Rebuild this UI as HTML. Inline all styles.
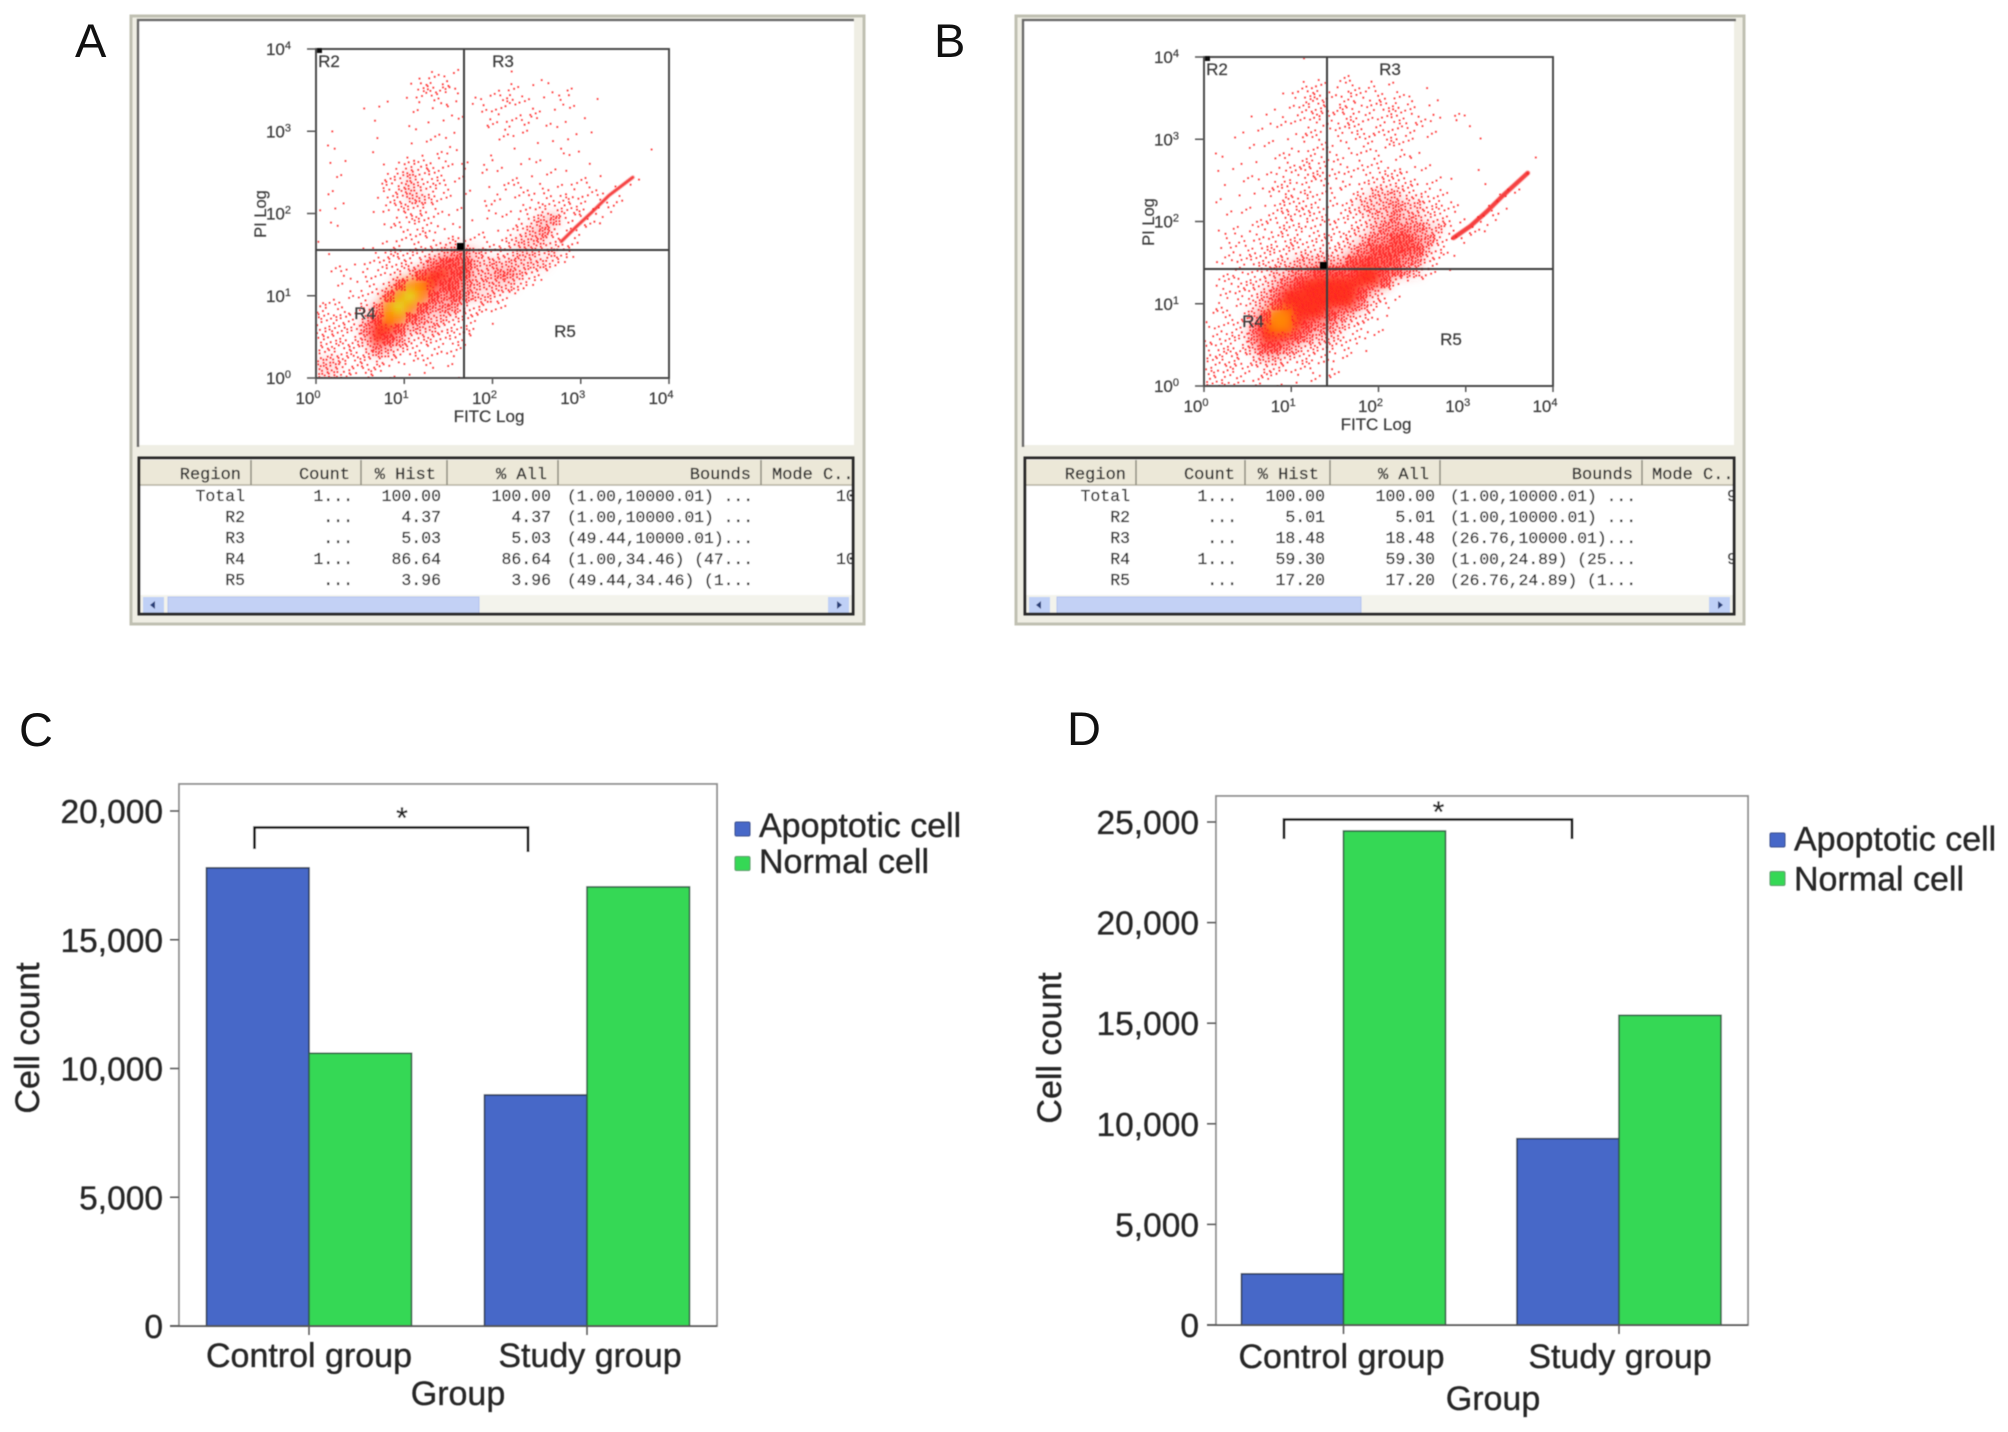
<!DOCTYPE html>
<html lang="en">
<head>
<meta charset="utf-8">
<title>Flow cytometry apoptosis panels</title>
<style>
html,body{margin:0;padding:0;background:#fff;width:2008px;height:1432px;overflow:hidden}
svg{display:block}
text{font-family:"Liberation Sans",sans-serif}
#chart-layer text{fill:#262626;stroke:#262626;stroke-width:.35px}
#flow-layer text{fill:#3a3a3a;stroke:#3a3a3a;stroke-width:.2px}
#table-layer text{fill:#2e2e2e;stroke:#2e2e2e;stroke-width:.3px}
</style>
</head>
<body>
<svg id="fig" xmlns="http://www.w3.org/2000/svg" width="2008" height="1432" viewBox="0 0 2008 1432">
<defs>
<filter id="soft" x="-2%" y="-2%" width="104%" height="104%"><feGaussianBlur stdDeviation="0.5"/></filter>
<filter id="soft2" x="-2%" y="-2%" width="104%" height="104%"><feGaussianBlur stdDeviation="0.45"/></filter>
<filter id="ridge" x="-10%" y="-10%" width="120%" height="120%"><feGaussianBlur stdDeviation="0.9"/></filter>
<filter id="heat" x="-10%" y="-10%" width="120%" height="120%"><feGaussianBlur stdDeviation="5"/></filter>
<clipPath id="clip-a"><rect x="139" y="458" width="714" height="156"/></clipPath>
<clipPath id="clip-b"><rect x="1025" y="458" width="709" height="156"/></clipPath>
<clipPath id="plot-a"><rect x="316" y="49" width="353" height="329"/></clipPath>
<clipPath id="plot-b"><rect x="1204" y="57" width="349" height="329"/></clipPath>
</defs>
<rect x="0" y="0" width="2008" height="1432" fill="#fff"/>

<text x="75" y="57" font-size="47" fill="#111">A</text>
<text x="934" y="57" font-size="47" fill="#111">B</text>
<text x="19" y="746" font-size="47" fill="#111">C</text>
<text x="1067" y="745" font-size="47" fill="#111">D</text>

<g id="panel-a" filter="url(#soft2)">
<rect x="131" y="16" width="733" height="608" fill="#efeee4" stroke="#c0c0b2" stroke-width="3"/>
<rect x="138" y="21" width="716" height="424" fill="#fff"/>
<path d="M138 447V20H854" fill="none" stroke="#666" stroke-width="2.5"/>
</g>
<g id="panel-b" filter="url(#soft2)">
<rect x="1016" y="16" width="728" height="608" fill="#efeee4" stroke="#c0c0b2" stroke-width="3"/>
<rect x="1023" y="21" width="711" height="424" fill="#fff"/>
<path d="M1023 447V20H1736" fill="none" stroke="#666" stroke-width="2.5"/>
</g>
<g id="flow-layer"></g>
<g id="table-layer" filter="url(#soft2)"></g>
<g id="chart-layer" filter="url(#soft2)"></g>
</svg>

<script>
/* ---------- bar chart data ---------- */
const categories = ['Control group', 'Study group'];
const seriesNames = ['Apoptotic cell', 'Normal cell'];
const chartCApoptotic = [17790, 8970];
const chartCNormal = [10590, 17050];
const chartDApoptotic = [2540, 9260];
const chartDNormal = [24550, 15390];
const chartCTicks = [0, 5000, 10000, 15000, 20000];
const chartDTicks = [0, 5000, 10000, 15000, 20000, 25000];

/* ---------- flow cytometry data: event density per log-bin (0-9), top row first ---------- */
const flowDecades = [0, 1, 2, 3, 4];
const flowADensity = [
"0000 0000 0000 0000 0000 0000 0000 0000",
"0000 0000 0000 1000 0100 0000 0000 0000",
"0000 0000 0122 1000 0000 1000 0000 0000",
"0000 0000 1333 2000 1211 1111 0000 0000",
"0000 0010 1222 1021 2321 1120 0100 0000",
"0000 1100 1111 1012 2112 1111 0000 0000",
"0000 0100 1011 1102 1222 1110 1000 0000",
"0100 0000 1011 1001 1211 0101 1000 0000",
"0100 0100 1111 1000 1100 1110 0000 0000",
"0100 0100 1112 1001 0001 0021 0000 0010",
"0110 0012 3322 1202 1011 1100 1000 0000",
"0110 0023 4232 1101 1111 1111 1100 0100",
"0100 0133 4332 1101 1221 2112 2101 1000",
"0110 0123 4432 1101 2112 2232 2212 0000",
"1100 0123 3321 1102 1122 3233 1220 0000",
"0100 0012 3321 1011 1123 4522 2200 0000",
"0100 0012 2321 1011 1234 5312 1000 0000",
"1000 0112 2222 3212 2344 4322 0000 0000",
"0100 1233 3334 5543 3344 3431 0000 0000",
"0111 2233 3356 6644 4444 4310 0000 0000",
"0121 2223 4677 6644 5543 2000 0000 0000",
"0111 2236 8876 6544 4431 0000 0000 0000",
"0112 2268 9865 6544 3200 0000 0000 0000",
"3221 3589 8655 5332 2100 0000 0000 0000",
"3332 4688 6544 3321 0000 0000 0000 0000",
"3333 5776 4443 3310 0000 0000 0000 0000",
"3333 4765 3332 3200 0000 0000 0000 0000",
"3333 3543 3222 2100 0000 0000 0000 0000",
"4433 3322 1221 1000 0000 0000 0000 0000",
"4432 3211 1100 1000 0000 0000 0000 0000"
];
const flowBDensity = [
"0000 0000 0100 0000 0000 0000 0000 0000",
"0000 0000 0000 1100 0000 0000 0000 0000",
"0000 0000 1221 2212 1100 1000 0000 0000",
"0000 0001 2332 2322 2220 0100 0000 0000",
"0000 0011 2332 3222 3321 1000 0000 0000",
"0000 1112 2232 2322 2322 2112 0000 0000",
"0001 1111 1222 2322 2222 1100 1000 0000",
"0010 1111 1221 2122 2321 1000 0100 0000",
"0100 1112 1222 1222 1121 0000 0000 0000",
"0101 1012 2322 2122 1111 1000 0000 0010",
"0111 1122 2332 2222 3321 1100 0100 0100",
"0101 1123 2222 2123 3332 2110 0100 1000",
"0101 1123 2322 1234 4433 2210 0002 1000",
"0111 1123 3322 2344 4544 3321 0021 0000",
"0011 1223 2332 2334 4544 3321 0220 0000",
"0111 2223 3222 2334 5555 4421 2200 0000",
"0122 2223 3233 3345 5665 5322 1000 0000",
"0122 2333 3333 3456 6666 4310 0000 0000",
"0222 3333 4444 4666 6655 3210 0000 0000",
"0122 2344 5566 6677 6654 2110 0000 0000",
"0223 3345 6777 7777 6311 0000 0000 0000",
"0222 3457 7777 7764 2100 0000 0000 0000",
"0212 3467 7777 7753 2100 0000 0000 0000",
"1222 4688 7776 5432 1000 0000 0000 0000",
"2222 5788 7655 4321 1000 0000 0000 0000",
"2233 5777 6544 3221 0000 0000 0000 0000",
"2333 4665 4333 2210 0000 0000 0000 0000",
"3332 3443 3322 1100 0000 0000 0000 0000",
"3232 2332 2212 1000 0000 0000 0000 0000",
"3322 2211 1111 0000 0000 0000 0000 0000"
];
/* diagonal ridge of events: [FITC decade, PI decade] */
const flowARidge = [[2.78, 1.66], [2.95, 1.84], [3.13, 2.02], [3.32, 2.22], [3.59, 2.44]];
const flowBRidge = [[2.86, 1.80], [3.05, 1.94], [3.24, 2.12], [3.43, 2.32], [3.71, 2.59]];

/* ---------- region statistics tables ---------- */
const tableHeaders = ['Region', 'Count', '% Hist', '% All', 'Bounds', 'Mode C..'];
const tableRegions = ['Total', 'R2', 'R3', 'R4', 'R5'];
const tableCounts = ['1...', '...', '...', '1...', '...'];
const tableAHist = ['100.00', '4.37', '5.03', '86.64', '3.96'];
const tableABounds = ['(1.00,10000.01) ...', '(1.00,10000.01) ...', '(49.44,10000.01)...', '(1.00,34.46) (47...', '(49.44,34.46) (1...'];
const tableAMode = ['10', '', '', '10', ''];
const tableBHist = ['100.00', '5.01', '18.48', '59.30', '17.20'];
const tableBBounds = ['(1.00,10000.01) ...', '(1.00,10000.01) ...', '(26.76,10000.01)...', '(1.00,24.89) (25...', '(26.76,24.89) (1...'];
const tableBMode = ['9', '', '', '9', ''];

const NS = 'http://www.w3.org/2000/svg';

function svgEl(tag, attrs, parent) {
  const e = document.createElementNS(NS, tag);
  for (const k in attrs) e.setAttribute(k, attrs[k]);
  parent.appendChild(e);
  return e;
}
function addText(parent, name, str, x, y, size, anchor, fill, family) {
  const t = svgEl('text', {x: x, y: y, 'font-size': size, 'text-anchor': anchor, fill: fill}, parent);
  
  
  if (family) t.style.fontFamily = family;
  t.textContent = str;
  return t;
}
function addShape(parent, name, tag, attrs, interactable) {
  const s = svgEl(tag, attrs, parent);
  
  
  return s;
}

/* ---------- flow plot ---------- */
const heatColors = {4: '#ff5050', 5: '#ff3c3c', 6: '#ff2c20', 7: '#ff2208', 8: '#ff8400', 9: '#d6e81c'};
const heatOpacity = {4: 0.18, 5: 0.36, 6: 0.62, 7: 0.95, 8: 1, 9: 1};
const dotCounts = [0, 1, 3, 6, 10, 16, 24, 10, 0, 0];

function drawFlow(cfg) {
  const root = svgEl('g', {}, document.getElementById('flow-layer'));
  
  
  const xAt = d => cfg.left + d * (cfg.right - cfg.left) / 4;
  const yAt = d => cfg.bottom - d * (cfg.bottom - cfg.top) / 4;
  const rows = cfg.density.map(r => r.replace(/ /g, ''));
  const colDec = 4 / 32, rowDec = 4 / 30;

  const clipHolder = svgEl('g', {'clip-path': 'url(#plot-' + cfg.id + ')'}, root);
  const heat = svgEl('g', {filter: 'url(#heat)'}, clipHolder);
  const dots = svgEl('g', {filter: 'url(#soft)'}, clipHolder);

  rows.forEach((row, r) => {
    for (let c = 0; c < row.length; c++) {
      const level = +row[c];
      if (!level) continue;
      const x0 = xAt(c * colDec), x1 = xAt((c + 1) * colDec);
      const y0 = yAt(4 - r * rowDec), y1 = yAt(4 - (r + 1) * rowDec);
      if (level >= 4) {
        addShape(heat, 'density-heat-cell', 'rect', {x: x0, y: y0, width: x1 - x0, height: y1 - y0, fill: heatColors[level], 'fill-opacity': heatOpacity[level]});
      }
      const n = dotCounts[level];
      if (n) {
        let d = '';
        for (let k = 1; k <= n; k++) {
          const u = (k * 0.7549 + c * 0.37 + r * 0.61) % 1;
          const v = (k * 0.5698 + c * 0.83 + r * 0.29) % 1;
          d += 'M' + (x0 + u * (x1 - x0)).toFixed(1) + ' ' + (y0 + v * (y1 - y0)).toFixed(1) + 'h1.8v1.8h-1.8z';
        }
        addShape(dots, 'density-dot-cell', 'path', {d: d, fill: '#ff2222', 'fill-opacity': 0.9});
      }
    }
  });

  const ridgePath = cfg.ridge.map((p, i) => (i ? 'L' : 'M') + xAt(p[0]).toFixed(1) + ' ' + yAt(p[1]).toFixed(1)).join('');
  addShape(clipHolder, 'event-ridge', 'path', {d: ridgePath, fill: 'none', stroke: '#f51c1c', 'stroke-width': cfg.ridgeW, 'stroke-opacity': 0.85, 'stroke-linecap': 'round', filter: 'url(#ridge)'});

  const ink = svgEl('g', {filter: 'url(#soft2)'}, root);
  addShape(ink, 'plot-border', 'rect', {x: cfg.left, y: cfg.top, width: cfg.right - cfg.left, height: cfg.bottom - cfg.top, fill: 'none', stroke: '#444', 'stroke-width': 1.9});
  addShape(ink, 'vertical-gate', 'line', {x1: cfg.gateX, x2: cfg.gateX, y1: cfg.top, y2: cfg.bottom, stroke: '#3c3c3c', 'stroke-width': 2}, true);
  addShape(ink, 'horizontal-gate', 'line', {x1: cfg.left, x2: cfg.right, y1: cfg.gateY, y2: cfg.gateY, stroke: '#3c3c3c', 'stroke-width': 2}, true);
  addShape(ink, 'gate-handle', 'rect', {x: cfg.gateX - 7, y: cfg.gateY - 7, width: 7, height: 7, fill: '#000'}, true);
  addShape(ink, 'corner-handle', 'rect', {x: cfg.left + 1, y: cfg.top - 1, width: 5, height: 5, fill: '#111'}, true);

  flowDecades.forEach(d => {
    const x = xAt(d), y = yAt(d);
    addShape(ink, 'y-tick', 'line', {x1: cfg.left - 9, x2: cfg.left, y1: y, y2: y, stroke: '#555', 'stroke-width': 1.5});
    addShape(ink, 'x-tick', 'line', {x1: x, x2: x, y1: cfg.bottom, y2: cfg.bottom + 6, stroke: '#555', 'stroke-width': 1.5});
    const ly = addText(ink, 'y-tick-label', '10', cfg.left - 25, y + 6, 17, 'end', '#444');
    const sy = svgEl('tspan', {dy: -6, 'font-size': 11}, ly);
    sy.textContent = String(d);
    const lx = addText(ink, 'x-tick-label', '10', x - 8, cfg.bottom + 26, 17, 'middle', '#444');
    const sx = svgEl('tspan', {dy: -6, 'font-size': 11}, lx);
    sx.textContent = String(d);
  });
  addText(ink, 'x-axis-title', 'FITC Log', cfg.xTitleX, cfg.xTitleY, 17, 'middle', '#444');
  const py = addText(ink, 'y-axis-title', 'PI Log', 0, 0, 16.5, 'middle', '#444');
  py.setAttribute('transform', 'translate(' + cfg.yTitleX + ' ' + cfg.yTitleY + ') rotate(-90)');
  cfg.regions.forEach(rg => {
    addText(ink, 'region-label', rg[0], rg[1], rg[2], 17, 'middle', '#444');
  });
}

drawFlow({id: 'a', density: flowADensity, ridge: flowARidge, ridgeW: 3.2, left: 316, right: 669, top: 49, bottom: 378, gateX: 464, gateY: 250,
  xTitleX: 489, xTitleY: 422, yTitleX: 266, yTitleY: 214,
  regions: [['R2', 329, 67], ['R3', 503, 67], ['R4', 365, 319], ['R5', 565, 337]]});
drawFlow({id: 'b', density: flowBDensity, ridge: flowBRidge, ridgeW: 4.5, left: 1204, right: 1553, top: 57, bottom: 386, gateX: 1327, gateY: 269,
  xTitleX: 1376, xTitleY: 430, yTitleX: 1154, yTitleY: 222,
  regions: [['R2', 1217, 75], ['R3', 1390, 75], ['R4', 1253, 327], ['R5', 1451, 345]]});

/* ---------- tables ---------- */
function drawTable(t) {
  const g = svgEl('g', {}, document.getElementById('table-layer'));
  
  
  const c = svgEl('g', {'clip-path': 'url(#clip-' + t.id + ')'}, g);
  const w = t.right - t.left;
  addShape(c, 'table-body', 'rect', {x: t.left, y: 458, width: w, height: 156, fill: '#fff'});
  addShape(c, 'table-header-row', 'rect', {x: t.left, y: 460, width: w, height: 25, fill: '#ece8d8'});
  addShape(c, 'table-header-rule', 'line', {x1: t.left, x2: t.right, y1: 485, y2: 485, stroke: '#b5b2a2', 'stroke-width': 1.5});
  t.seps.forEach(x => {
    addShape(c, 'column-separator', 'line', {x1: x, x2: x, y1: 460, y2: 485, stroke: '#8d8a7c', 'stroke-width': 1.5});
  });
  const mono = '"Liberation Mono",monospace';
  tableHeaders.forEach((h, i) => {
    const isLast = i === 5;
    addText(c, 'column-header', h, isLast ? t.modeX : t.headRight[i], 479, 17, isLast ? 'start' : 'end', '#333', mono);
  });
  tableRegions.forEach((name, i) => {
    const y = 501 + i * 21;
    addText(c, 'region-name', name, t.valRight[0], y, 16.5, 'end', '#333', mono);
    addText(c, 'region-count', tableCounts[i], t.valRight[1], y, 16.5, 'end', '#555', mono);
    addText(c, 'region-hist', t.hist[i], t.valRight[2], y, 16.5, 'end', '#444', mono);
    addText(c, 'region-all', t.hist[i], t.valRight[3], y, 16.5, 'end', '#444', mono);
    const b = addText(c, 'region-bounds', t.bounds[i], t.boundsX, y, 15.5, 'start', '#444', mono);
    b.setAttribute('textLength', '186');
    b.setAttribute('lengthAdjust', 'spacingAndGlyphs');
    if (t.mode[i]) addText(c, 'region-mode', t.mode[i], t.valModeX, y, 16.5, 'start', '#444', mono);
  });
  addShape(c, 'scrollbar-track', 'rect', {x: t.left, y: 595, width: w, height: 19, fill: '#f3f3ec'}, true);
  addShape(c, 'scrollbar-thumb', 'rect', {x: t.thumbX, y: 597, width: t.thumbW, height: 16, fill: '#c3d1f5', stroke: '#b3c3ee', 'stroke-width': 1}, true);
  addShape(c, 'scroll-left-button', 'rect', {x: t.left + 4, y: 597, width: 21, height: 16, fill: '#bfd0f6'}, true);
  addShape(c, 'scroll-right-button', 'rect', {x: t.right - 25, y: 597, width: 21, height: 16, fill: '#bfd0f6'}, true);
  addShape(c, 'scroll-left-arrow', 'path', {d: 'M' + (t.left + 11) + ' 605l5-4v8z', fill: '#2a3f78'});
  addShape(c, 'scroll-right-arrow', 'path', {d: 'M' + (t.right - 11) + ' 605l-5-4v8z', fill: '#2a3f78'});
  addShape(g, 'table-border', 'rect', {x: t.left, y: 458, width: w, height: 156, fill: 'none', stroke: '#2a2a2a', 'stroke-width': 3});
}
drawTable({id: 'a', left: 139, right: 853, seps: [251, 361, 447, 558, 761],
  headRight: [241, 350, 436, 547, 751], valRight: [245, 353, 441, 551], modeX: 772, boundsX: 567, valModeX: 836,
  hist: tableAHist, bounds: tableABounds, mode: tableAMode, thumbX: 168, thumbW: 311});
drawTable({id: 'b', left: 1025, right: 1734, seps: [1136, 1245, 1330, 1440, 1642],
  headRight: [1126, 1235, 1319, 1429, 1633], valRight: [1130, 1237, 1325, 1435], modeX: 1652, boundsX: 1450, valModeX: 1727,
  hist: tableBHist, bounds: tableBBounds, mode: tableBMode, thumbX: 1057, thumbW: 304});

/* ---------- bar charts ---------- */
function drawChart(ch) {
  const g = svgEl('g', {}, document.getElementById('chart-layer'));
  
  
  const yAt = v => ch.bottom - v * ch.pxPerUnit;
  const xAt = i => ch.firstCenter + i * ch.step;
  const ink = '#262626';

  addShape(g, 'plot-frame', 'rect', {x: ch.left, y: ch.top, width: ch.right - ch.left, height: ch.bottom - ch.top, fill: '#fff', stroke: '#8e8e8e', 'stroke-width': 1.8});

  categories.forEach((cat, i) => {
    const cx = xAt(i);
    addShape(g, 'bar-apoptotic-' + i, 'rect', {x: cx - ch.barW, y: yAt(ch.apoptotic[i]), width: ch.barW, height: ch.bottom - yAt(ch.apoptotic[i]), fill: '#4668c8', stroke: '#2b3a55', 'stroke-width': 1.6}, true);
    addShape(g, 'bar-normal-' + i, 'rect', {x: cx, y: yAt(ch.normal[i]), width: ch.barW, height: ch.bottom - yAt(ch.normal[i]), fill: '#36d855', stroke: '#2d6044', 'stroke-width': 1.6}, true);
    addShape(g, 'x-tick', 'line', {x1: cx, x2: cx, y1: ch.bottom, y2: ch.bottom + 9, stroke: '#555', 'stroke-width': 1.5});
    addText(g, 'x-tick-label', cat, cx + ch.catNudge[i], ch.catY, 34, 'middle', ink);
  });
  addShape(g, 'x-axis-line', 'line', {x1: ch.left - 9, x2: ch.right, y1: ch.bottom, y2: ch.bottom, stroke: '#555', 'stroke-width': 1.8});

  ch.ticks.forEach(v => {
    const y = yAt(v);
    addShape(g, 'y-tick', 'line', {x1: ch.left - 9, x2: ch.left, y1: y, y2: y, stroke: '#555', 'stroke-width': 1.5});
    addText(g, 'y-tick-label', v.toLocaleString('en-US'), ch.tickRight, y + 12, 33.5, 'end', ink);
  });

  addText(g, 'x-axis-title', 'Group', ch.groupX, ch.groupY, 34, 'middle', ink);
  const yt = addText(g, 'y-axis-title', 'Cell count', 0, 0, 34, 'middle', ink);
  yt.setAttribute('transform', 'translate(' + ch.cellX + ' ' + ch.cellY + ') rotate(-90)');

  addShape(g, 'significance-bracket', 'path', {d: 'M' + ch.br[0] + ' ' + ch.br[3] + 'V' + ch.br[2] + 'H' + ch.br[1] + 'V' + ch.br[4], fill: 'none', stroke: '#111', 'stroke-width': 2.6}, false);
  addText(g, 'significance-star', '*', ch.starX, ch.starY, 30, 'middle', '#222');

  seriesNames.forEach((s, i) => {
    const y = ch.legend[1] + i * ch.legend[3];
    addShape(g, 'legend-swatch', 'rect', {x: ch.legend[0], y: y, width: 15, height: 14, rx: 1.5, fill: i ? '#36d855' : '#4668c8', stroke: i ? '#5a9a6a' : '#3a4f8c', 'stroke-width': 1});
    addText(g, 'legend-entry', s, ch.legend[2], y + ch.legend[4] + i * ch.legend[5], 34, 'start', ink);
  });
}
drawChart({id: 'c', apoptotic: chartCApoptotic, normal: chartCNormal, ticks: chartCTicks,
  left: 179, right: 717, top: 784, bottom: 1326, pxPerUnit: 0.02575, firstCenter: 309, step: 278, barW: 102.5,
  tickRight: 163, catY: 1367, catNudge: [0, 3], groupX: 458, groupY: 1405, cellX: 39, cellY: 1038,
  br: [254.5, 528, 827.5, 849, 852], starX: 402, starY: 828, legend: [735, 822, 759, 34.5, 15, 1.5]});
drawChart({id: 'd', apoptotic: chartDApoptotic, normal: chartDNormal, ticks: chartDTicks,
  left: 1216, right: 1748, top: 796, bottom: 1325, pxPerUnit: 0.02012, firstCenter: 1343.5, step: 275.5, barW: 102,
  tickRight: 1199, catY: 1368, catNudge: [-2, 1], groupX: 1493, groupY: 1410, cellX: 1061, cellY: 1048,
  br: [1284, 1572, 819.5, 839, 839], starX: 1438.5, starY: 822, legend: [1770, 833, 1794, 38.5, 17.5, 1.5]});
</script>
</body>
</html>
